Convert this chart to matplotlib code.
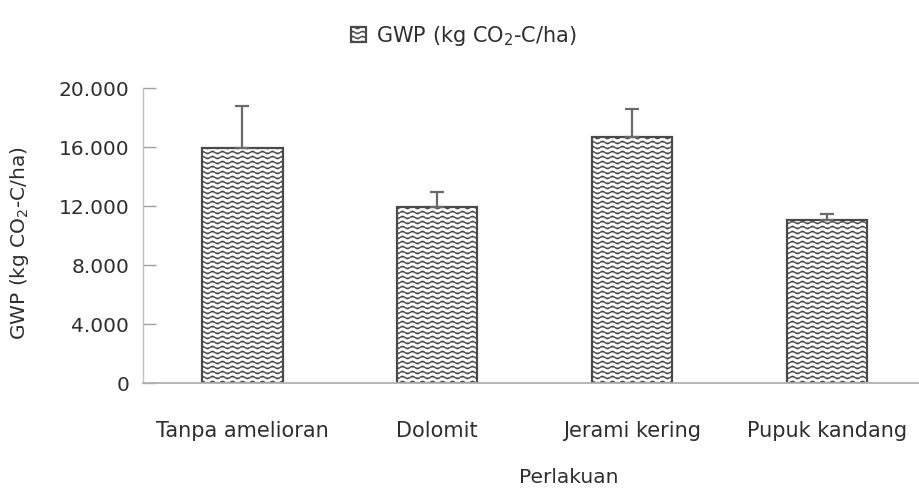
import numpy as np
import matplotlib
matplotlib.use("Agg")
import matplotlib.pyplot as plt
import matplotlib.hatch as mhatch
from matplotlib.path import Path
from matplotlib.ticker import FuncFormatter

categories = ["Tanpa amelioran", "Dolomit", "Jerami kering", "Pupuk kandang"]
gwp = [15950, 11900, 16650, 11050]
err_up = [2850, 1050, 1900, 400]
err_low = [0, 0, 0, 0]
yticks = [0, 4000, 8000, 12000, 16000, 20000]


# wavy hatch, used instead of the plain horizontal '-' hatch
class WaveHatch(mhatch.HatchPatternBase):
    def __init__(self, hatch, density):
        self.num_lines = 20 if ('-' in hatch or '+' in hatch) else 0
        self.num_pts = 81
        self.num_vertices = self.num_lines * self.num_pts

    def set_vertices_and_codes(self, vertices, codes):
        xs = np.linspace(0, 1, self.num_pts)
        for i in range(self.num_lines):
            s = (i + 0.5) / self.num_lines
            a, b = i * self.num_pts, (i + 1) * self.num_pts
            vertices[a:b, 0] = xs
            vertices[a:b, 1] = s + 0.013 * np.sin(2 * np.pi * 10 * xs)
            codes[a:b] = Path.LINETO
            codes[a] = Path.MOVETO


mhatch._hatch_types = [WaveHatch if t is mhatch.HorizontalHatch else t
                       for t in mhatch._hatch_types]

plt.rcParams['font.family'] = ['DejaVu Sans']
plt.rcParams['hatch.linewidth'] = 0.9
txt = '#2e2e2e'

fig = plt.figure(figsize=(9.19, 4.9), dpi=100)
ax = fig.add_axes([143 / 919, 1 - 383 / 490, (919 - 143) / 919, 295 / 490])

x = np.arange(len(categories))
bars = ax.bar(x, gwp, width=0.415, color='white', edgecolor='#4a4a4a',
              linewidth=1.6, hatch='-', label='GWP (kg CO$_2$-C/ha)', zorder=2)
ax.errorbar(x, gwp, yerr=[err_low, err_up], fmt='none', ecolor='#6a6a6a',
            elinewidth=1.6, capsize=5, capthick=1.6, zorder=3)

ax.set_xlim(-0.508, 3.472)
ax.set_ylim(0, 20000)
ax.set_yticks(yticks)
ax.yaxis.set_major_formatter(FuncFormatter(lambda v, p: f"{int(v):,}".replace(',', '.')))
ax.set_xticks(x)
ax.set_xticklabels(categories)

ax.tick_params(axis='x', length=0, pad=27, labelsize=15, labelcolor=txt)
ax.tick_params(axis='y', direction='in', length=9, width=1, color='#a0a0a0',
               pad=10, labelsize=14.5, labelcolor=txt)

for s in ['top', 'right']:
    ax.spines[s].set_visible(False)
ax.spines['bottom'].set_color('#b0b0b0')
ax.spines['bottom'].set_linewidth(1.3)
ax.spines['left'].set_color('#c0c0c0')
ax.spines['left'].set_linewidth(1.0)

ax.set_ylabel('GWP (kg CO$_2$-C/ha)', fontsize=14.5, color=txt, va='center')
ax.yaxis.set_label_coords(-0.159, 0.475)
ax.set_xlabel('Perlakuan', fontsize=14.5, color=txt, va='center')
ax.xaxis.set_label_coords(0.549, -0.322)

fig.legend(handles=[bars], loc='upper center', bbox_to_anchor=(0.505, 0.99),
           frameon=False, fontsize=15, handlelength=0.7, handleheight=0.7,
           handletextpad=0.5, labelcolor=txt)

fig.savefig('out.png', dpi=100)
